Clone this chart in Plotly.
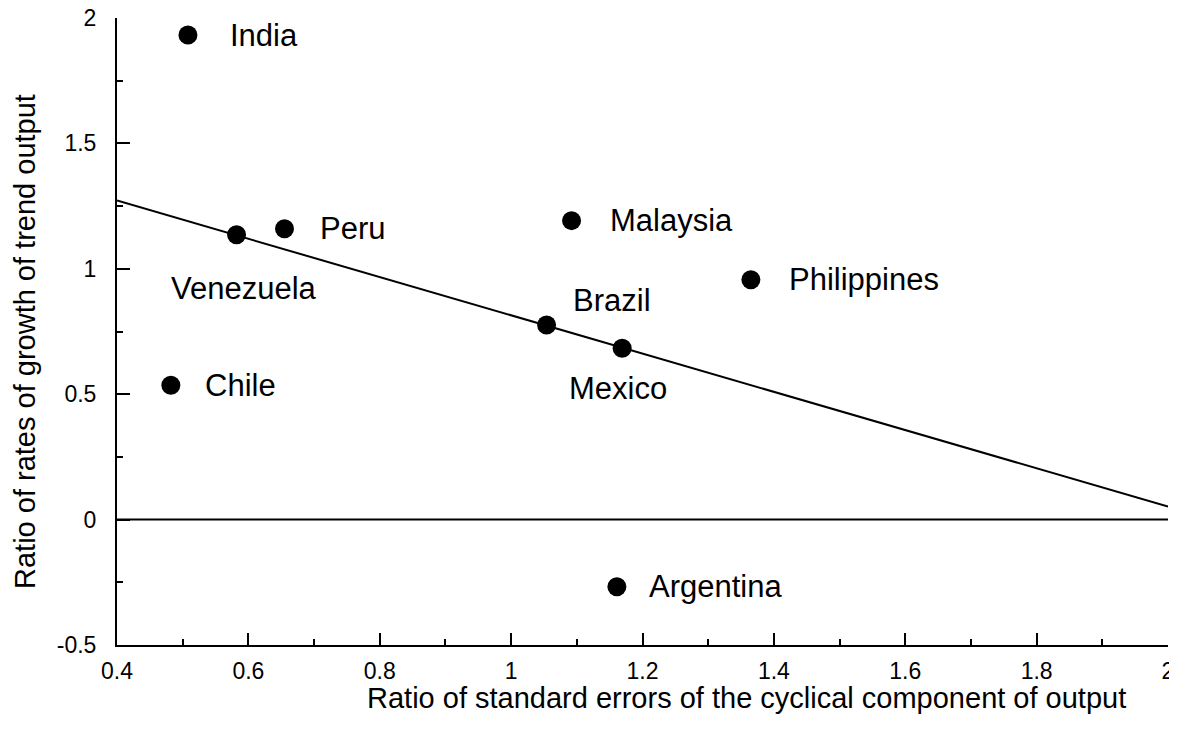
import plotly.graph_objects as go

countries = ["India", "Peru", "Venezuela", "Malaysia", "Brazil", "Mexico", "Philippines", "Chile", "Argentina"]
x_vals = [0.508, 0.655, 0.582, 1.092, 1.054, 1.169, 1.365, 0.482, 1.161]
y_vals = [1.932, 1.160, 1.136, 1.192, 0.776, 0.683, 0.956, 0.536, -0.268]

fit_x = [0.4, 2.0]
fit_y = [1.272, 0.052]
zero_x = [0.4, 2.0]
zero_y = [0.0, 0.0]

x_ticks = [0.4, 0.6, 0.8, 1.0, 1.2, 1.4, 1.6, 1.8, 2.0]
x_ticklabels = ["0.4", "0.6", "0.8", "1", "1.2", "1.4", "1.6", "1.8", "2"]
y_ticks = [-0.5, 0, 0.5, 1.0, 1.5, 2.0]
y_ticklabels = ["-0.5", "0", "0.5", "1", "1.5", "2"]

x_title = "Ratio of standard errors of the cyclical component of output"
y_title = "Ratio of rates of growth of trend output"

# label placement (pixels): xanchor, xshift, yshift
label_style = {
    "India": ("left", 40, 0),
    "Peru": ("left", 33, 0),
    "Venezuela": ("center", 7, -54),
    "Malaysia": ("left", 36, 0),
    "Brazil": ("left", 24, 24),
    "Mexico": ("center", -4, -40),
    "Philippines": ("left", 36, 0),
    "Chile": ("left", 32, 0),
    "Argentina": ("left", 30, 0),
}

FONT = "Liberation Sans, Arial, sans-serif"

# page has an 8px body margin; figure coordinates are offset accordingly
OFF = 8
W, H = 1177 - OFF, 731 - OFF
L, R, T, B = 117 - OFF, 1168 - OFF, 18 - OFF, 645 - OFF
pw, ph = R - L, B - T

fig = go.Figure()
fig.add_trace(go.Scatter(x=zero_x, y=zero_y, mode="lines",
                         line=dict(color="black", width=2), hoverinfo="skip"))
fig.add_trace(go.Scatter(x=fit_x, y=fit_y, mode="lines",
                         line=dict(color="black", width=2), hoverinfo="skip"))
fig.add_trace(go.Scatter(x=x_vals, y=y_vals, mode="markers", text=countries,
                         marker=dict(color="black", size=19, line=dict(width=0))))

for c, xv, yv in zip(countries, x_vals, y_vals):
    anchor, dx, dy = label_style[c]
    fig.add_annotation(x=xv, y=yv, xref="x", yref="y", text=c, showarrow=False,
                       xanchor=anchor, yanchor="middle", xshift=dx, yshift=dy,
                       font=dict(family=FONT, size=31, color="black"))

fig.add_annotation(xref="paper", yref="paper", x=(746 - OFF - L) / pw, y=-(698 - OFF - B) / ph,
                   xanchor="center", yanchor="middle", text=x_title, showarrow=False,
                   borderpad=0, font=dict(family=FONT, size=29, color="black"))
fig.add_annotation(xref="paper", yref="paper", x=(25 - OFF - L) / pw, y=(B - (342 - OFF)) / ph,
                   xanchor="center", yanchor="middle", text=y_title, showarrow=False,
                   borderpad=0, textangle=-90, font=dict(family=FONT, size=29, color="black"))

fig.update_layout(
    width=W, height=H,
    margin=dict(l=L, r=W - R, t=T, b=H - B, autoexpand=False),
    paper_bgcolor="white", plot_bgcolor="white",
    showlegend=False,
    font=dict(family=FONT, size=22, color="black"),
    xaxis=dict(range=[0.4, 2.0], tickvals=x_ticks, ticktext=x_ticklabels,
               ticks="inside", ticklen=12, tickwidth=2, tickcolor="black",
               showline=True, linecolor="black", linewidth=2, mirror=False,
               showgrid=False, zeroline=False, automargin=False,
               ticklabeloverflow="allow",
               minor=dict(dtick=0.1, ticks="inside", ticklen=6, tickwidth=2, tickcolor="black", showgrid=False),
               tickfont=dict(family=FONT, size=23, color="black"), ticklabelstandoff=4),
    yaxis=dict(range=[-0.5, 2.0], tickvals=y_ticks, ticktext=y_ticklabels,
               ticks="inside", ticklen=13, tickwidth=2, tickcolor="black",
               showline=True, linecolor="black", linewidth=2, mirror=False,
               showgrid=False, zeroline=False, automargin=False,
               ticklabeloverflow="allow",
               minor=dict(dtick=0.25, ticks="inside", ticklen=6, tickwidth=2, tickcolor="black", showgrid=False),
               tickfont=dict(family=FONT, size=23, color="black"), ticklabelstandoff=14),
)

fig.write_html("out.html")
